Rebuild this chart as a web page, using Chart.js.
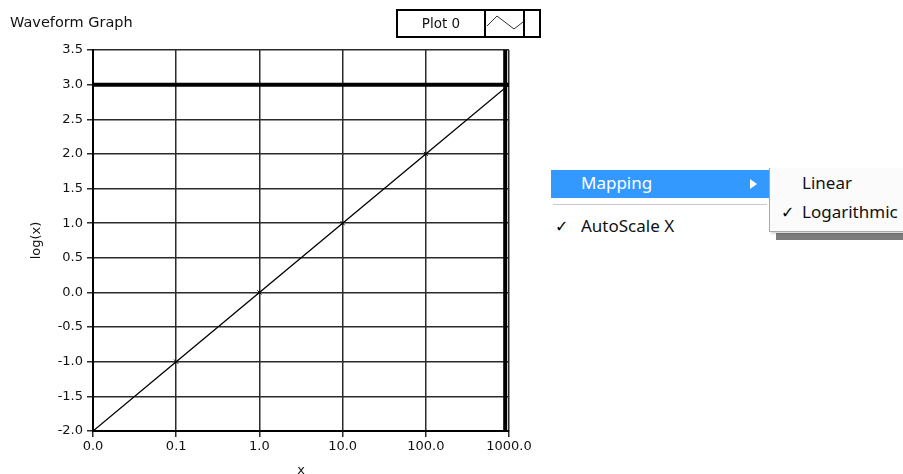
<!DOCTYPE html>
<html>
<head>
<meta charset="utf-8" />
<style>
  html, body { margin: 0; padding: 0; background: #fff; width: 903px; height: 474px; overflow: hidden; }
  body { position: relative; font-family: "DejaVu Sans", sans-serif; }
  #wrap { position: absolute; left: 0; top: 0; width: 545px; height: 490px; }
  .abs { position: absolute; }
  #title { left: 10px; top: 14px; font-size: 14.5px; color: #111; }
  #legend { left: 396px; top: 9px; width: 141px; height: 25px; border: 2px solid #000; background: #fff; }
  #legend .lbl { left: 0; top: 0; width: 86px; height: 25px; line-height: 25px; text-align: center; font-size: 13.5px; color: #111; }
  #legend .icon { left: 86px; top: 0; width: 37px; height: 25px; border-left: 2px solid #000; border-right: 2px solid #000; }
  .menu { font-family: "Noto Sans", "Open Sans", sans-serif; font-size: 17px; color: #111; }
  #main { left: 549px; top: 168px; width: 222px; height: 72px; background: #fff; }
  #hl { left: 551px; top: 170px; width: 218px; height: 28px; background: #3399ff; color: #fff; }
  #hl span { position: absolute; left: 30px; top: 1px; }
  #arrow { left: 199px; top: 9px; width: 0; height: 0; border-top: 5px solid transparent; border-bottom: 5px solid transparent; border-left: 7px solid #fff; }
  #sep1 { left: 553px; top: 204px; width: 214px; height: 1px; background: #c8c8c8; }
  #sep2 { left: 553px; top: 205px; width: 214px; height: 1px; background: #fff; }
  #auto { left: 555px; top: 214px; }
  #sub { left: 769px; top: 168px; width: 140px; height: 63px; background: #fbfbfb; border-left: 1px solid #a8a8a8; border-bottom: 1px solid #a8a8a8; box-shadow: 2px 2px 2px rgba(0,0,0,0.15); }
  #strip { left: 776px; top: 233px; width: 127px; height: 7px; background: #7d7d7d; }
  .chk { font-family: "DejaVu Sans", sans-serif; font-size: 16px; display: inline-block; width: 26px; color: #000; }
</style>
</head>
<body>
<div id="wrap"><canvas id="chart" width="545" height="490"></canvas></div>
<div id="title" class="abs">Waveform Graph</div>
<div id="legend" class="abs">
  <div class="lbl abs">Plot 0</div>
  <div class="icon abs">
    <svg width="37" height="25" style="position:absolute;left:0;top:0">
      <polyline points="1,15 11,5 28,18 37,11" fill="none" stroke="#333" stroke-width="1"/>
    </svg>
  </div>
</div>

<div id="strip" class="abs"></div>
<div id="main" class="abs"></div>
<div id="hl" class="abs menu"><span>Mapping</span><div id="arrow" class="abs"></div></div>
<div id="sep1" class="abs"></div>
<div id="sep2" class="abs"></div>
<div id="auto" class="abs menu"><span class="chk">&#10003;</span>AutoScale X</div>
<div id="sub" class="abs menu">
  <div class="abs" style="left:32px;top:3px">Linear</div>
  <div class="abs" style="left:11px;top:32px"><span class="chk" style="width:21px">&#10003;</span>Logarithmic</div>
</div>

<script src="https://cdn.jsdelivr.net/npm/chart.js"></script>
<script>
// plot 0: x on a log mapping, y = log(x)
const xValues = [0.01, 0.1, 1, 10, 100, 1000];
const yValues = [-2, -1, 0, 1, 2, 3];

// x axis ticks as shown on the graph
const xTickValues = [0.01, 0.1, 1, 10, 100, 1000];
const xTickLabels = ['0.0', '0.1', '1.0', '10.0', '100.0', '1000.0'];

// y axis range and ticks
const yMin = -2, yMax = 3.5, yStep = 0.5;

// cursors (thick lines)
const cursorY = 3.0;
const cursorX = 900;

const gridColor = '#2b2b2b';
const tickFont = { family: 'DejaVu Sans', size: 13 };
const textColor = '#111';

const plot = xValues.map((x, i) => ({ x: x, y: yValues[i] }));

new Chart(document.getElementById('chart'), {
  type: 'line',
  data: {
    datasets: [
      {
        label: 'Plot 0',
        data: plot,
        borderColor: '#000',
        borderWidth: 1.3,
        pointStyle: 'crossRot',
        pointRadius: 3,
        pointBorderColor: '#000',
        pointBorderWidth: 1,
        tension: 0
      },
      {
        label: 'cursor y',
        data: [{ x: xTickValues[0], y: cursorY }, { x: xTickValues[xTickValues.length - 1], y: cursorY }],
        borderColor: '#000',
        borderWidth: 4,
        pointRadius: 0
      },
      {
        label: 'cursor x',
        data: [{ x: cursorX, y: yMin }, { x: cursorX, y: yMax }],
        borderColor: '#000',
        borderWidth: 4,
        pointRadius: 0
      }
    ]
  },
  options: {
    responsive: false,
    animation: false,
    layout: { padding: { left: 0, top: 50, right: 36, bottom: 0 } },
    plugins: { legend: { display: false }, tooltip: { enabled: false } },
    scales: {
      x: {
        type: 'logarithmic',
        min: xTickValues[0],
        max: xTickValues[xTickValues.length - 1],
        afterBuildTicks: (scale) => { scale.ticks = xTickValues.map(v => ({ value: v })); },
        afterFit: (scale) => { scale.height = 59; },
        ticks: {
          autoSkip: false,
          maxRotation: 0,
          color: textColor,
          font: tickFont,
          padding: 2,
          callback: (v) => { const i = xTickValues.indexOf(v); return i >= 0 ? xTickLabels[i] : ''; }
        },
        grid: { color: gridColor, lineWidth: 1.5, tickLength: 6, tickColor: gridColor },
        border: { color: '#000', width: 2 },
        title: { display: true, text: 'x', color: textColor, font: tickFont, padding: { top: 0, bottom: 12 } }
      },
      y: {
        min: yMin,
        max: yMax,
        afterFit: (scale) => { scale.width = 93; },
        ticks: {
          stepSize: yStep,
          color: textColor,
          font: tickFont,
          padding: 4,
          callback: (v) => Number(v).toFixed(1)
        },
        grid: { color: gridColor, lineWidth: 1.5, tickLength: 6, tickColor: gridColor },
        border: { color: '#000', width: 2 },
        title: { display: true, text: 'log(x)', color: textColor, font: tickFont, padding: { top: 29, bottom: 0 } }
      }
    }
  }
});
</script>
</body>
</html>
